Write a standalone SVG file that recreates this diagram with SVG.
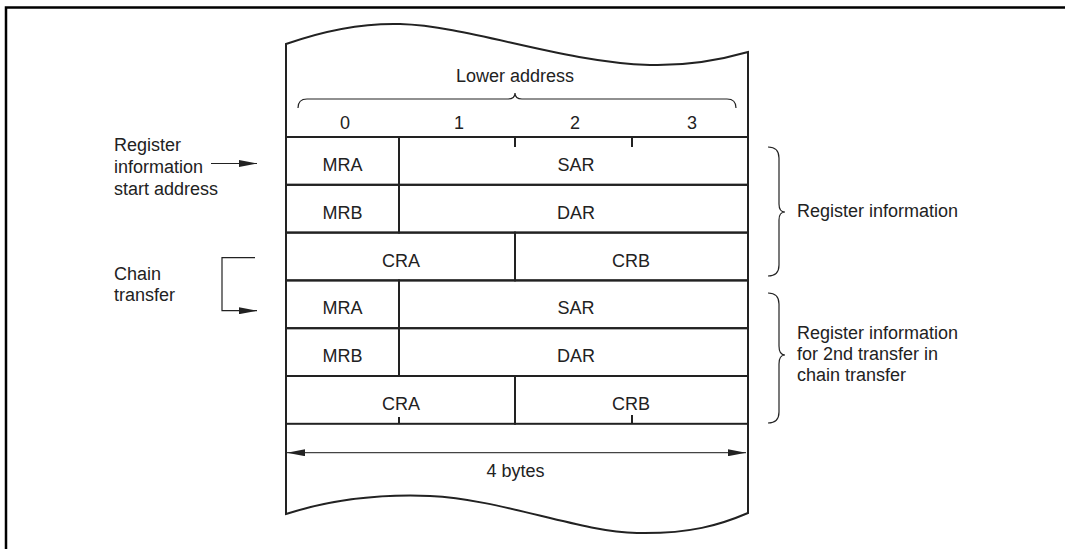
<svg xmlns="http://www.w3.org/2000/svg" width="1065" height="549" viewBox="0 0 1065 549">
<style>
text{font-family:"Liberation Sans",Arial,sans-serif;font-size:18px;fill:#222}
.c{text-anchor:middle}
.cell{fill:none;stroke:#222;stroke-width:2}
.thin{fill:none;stroke:#222;stroke-width:1.2}
.tick{stroke:#222;stroke-width:2}
</style>
<defs>
<marker id="ah" viewBox="0 0 18 7" refX="18" refY="3.5" markerWidth="18" markerHeight="7" markerUnits="userSpaceOnUse" orient="auto-start-reverse">
<path d="M0,0 L18,3.5 L0,7 Z" fill="#222"/>
</marker>
</defs>
<rect width="1065" height="549" fill="#fff"/>
<g id="frame">
<path d="M6,549 L6,7.5 L1065,7.5" fill="none" stroke="#000" stroke-width="2.5"/>
</g>
<g id="memory">
<path d="M286,44 C320,32 360,23 400,24 C470,26 560,62 650,65 C690,66 720,60 748,52 L748,513 C720,525 690,534 637,533 C580,532 500,499 430,496 C380,494 330,500 286,514 Z" fill="#fff" stroke="#222" stroke-width="2"/>
<text class="c" x="515" y="82">Lower address</text>
<path class="thin" d="M298,108 Q298,99 307,99 L508,99 Q515,99 515,93 Q515,99 522,99 L727,99 Q736,99 736,108"/>
<text class="c" x="345" y="129">0</text>
<text class="c" x="459" y="129">1</text>
<text class="c" x="575" y="129">2</text>
<text class="c" x="692" y="129">3</text>
</g>
<g id="mra1"><rect class="cell" x="286" y="137" width="113" height="47.8"/><text class="c" x="342.5" y="171">MRA</text></g>
<g id="sar1"><rect class="cell" x="399" y="137" width="349" height="47.8"/><text class="c" x="576" y="171">SAR</text>
<line class="tick" x1="515" y1="137" x2="515" y2="147"/><line class="tick" x1="632" y1="137" x2="632" y2="147"/></g>
<g id="mrb1"><rect class="cell" x="286" y="184.8" width="113" height="47.8"/><text class="c" x="342.5" y="218.7">MRB</text></g>
<g id="dar1"><rect class="cell" x="399" y="184.8" width="349" height="47.8"/><text class="c" x="576" y="218.7">DAR</text></g>
<g id="cra1"><rect class="cell" x="286" y="232.6" width="229" height="47.8"/><text class="c" x="401" y="266.5">CRA</text></g>
<g id="crb1"><rect class="cell" x="515" y="232.6" width="233" height="47.8"/><text class="c" x="631" y="266.5">CRB</text></g>
<g id="mra2"><rect class="cell" x="286" y="280.4" width="113" height="47.8"/><text class="c" x="342.5" y="314.3">MRA</text></g>
<g id="sar2"><rect class="cell" x="399" y="280.4" width="349" height="47.8"/><text class="c" x="576" y="314.3">SAR</text></g>
<g id="mrb2"><rect class="cell" x="286" y="328.2" width="113" height="47.8"/><text class="c" x="342.5" y="362">MRB</text></g>
<g id="dar2"><rect class="cell" x="399" y="328.2" width="349" height="47.8"/><text class="c" x="576" y="362">DAR</text></g>
<g id="cra2"><rect class="cell" x="286" y="376" width="229" height="47.8"/><text class="c" x="401" y="410">CRA</text>
<line class="tick" x1="399" y1="423.8" x2="399" y2="417"/></g>
<g id="crb2"><rect class="cell" x="515" y="376" width="233" height="47.8"/><text class="c" x="631" y="410">CRB</text>
<line class="tick" x1="632" y1="423.8" x2="632" y2="415"/></g>
<g id="bytes"><text class="c" x="515.5" y="477">4 bytes</text></g>
<g id="label-start"><text x="114" y="151">Register</text><text x="114" y="173">information</text><text x="114" y="194.5">start address</text></g>
<g id="label-chain"><text x="114" y="279.5">Chain</text><text x="114" y="301">transfer</text></g>
<g id="label-reg1"><text x="797" y="217">Register information</text></g>
<g id="label-reg2"><text x="797" y="338.5">Register information</text><text x="797" y="360">for 2nd transfer in</text><text x="797" y="381">chain transfer</text></g>
<g id="connectors">
<line class="thin" x1="211" y1="163.5" x2="257" y2="163.5" marker-end="url(#ah)"/>
<path class="thin" d="M255,257.7 L222,257.7 L222,310.7 L257,310.7" marker-end="url(#ah)"/>
<line x1="287" y1="452.7" x2="746" y2="452.7" stroke="#444" stroke-width="1.2" marker-start="url(#ah)" marker-end="url(#ah)"/>
<path class="thin" d="M768,147 Q779,147 779,158 L779,204 Q779,212 785,212 Q779,212 779,220 L779,265 Q779,276 768,276"/>
<path class="thin" d="M768,293 Q779,293 779,304 L779,346 Q779,355 785,355 Q779,355 779,364 L779,412 Q779,423 768,423"/>
</g>
</svg>
